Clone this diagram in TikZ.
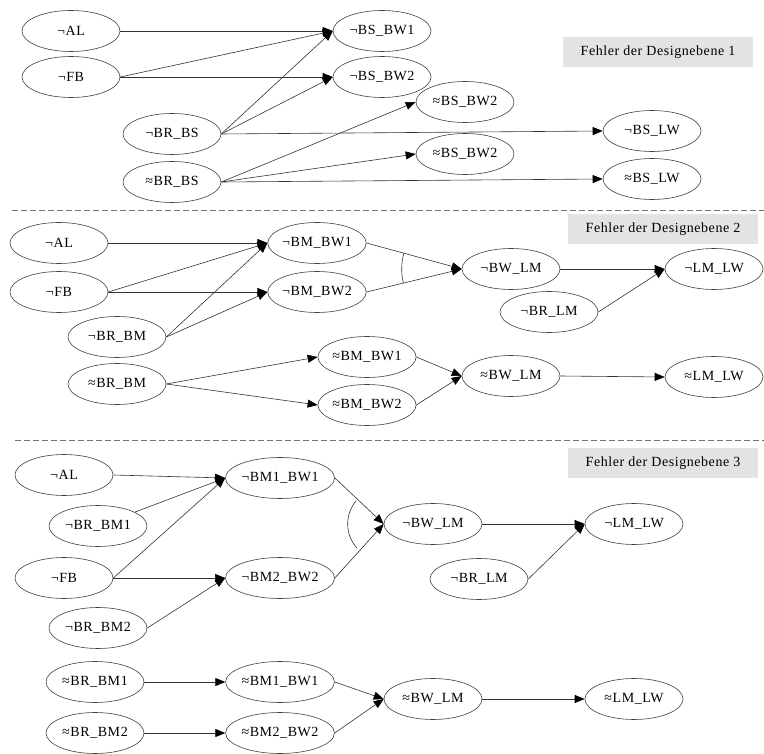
\documentclass[tikz,border=0pt]{standalone}
\usepackage{fontspec}
\setmainfont{Liberation Serif}
\newfontfamily\nodefont[LetterSpace=4]{Liberation Serif}
\usetikzlibrary{shapes.geometric,arrows.meta}

\tikzset{
  ev/.style={ellipse, draw=black!75, line width=0.6pt, minimum width=98pt,
    minimum height=41pt, inner sep=0pt, font=\nodefont\fontsize{14}{16}\selectfont},
  lab/.style={fill=black!11, minimum width=190pt, minimum height=30pt,
    inner sep=0pt, font=\nodefont\fontsize{14}{16}\selectfont},
  edge/.style={draw=black!80, line width=0.6pt, -{Triangle[length=10pt,width=8pt,color=black]}},
  andarc/.style={draw=black!80, line width=0.6pt},
  sep/.style={draw=black!55, line width=0.9pt, dash pattern=on 6pt off 3pt}
}

\begin{document}
\begin{tikzpicture}[x=1pt,y=-1pt]
\useasboundingbox (0,0) rectangle (764,754);

% ---------- Designebene 1 ----------
\node[ev] (s1al)    at (71,31)   {¬AL};
\node[ev] (s1fb)    at (71,77)   {¬FB};
\node[ev] (s1brbs)  at (172,134) {¬BR\_BS};
\node[ev] (s1xbrbs) at (172,182) {≈BR\_BS};
\node[ev] (s1bw1)   at (382,31)  {¬BS\_BW1};
\node[ev] (s1bw2)   at (382,77)  {¬BS\_BW2};
\node[ev] (s1xbw2a) at (465,102) {≈BS\_BW2};
\node[ev] (s1xbw2b) at (465,154) {≈BS\_BW2};
\node[ev] (s1lw)    at (652,131) {¬BS\_LW};
\node[ev] (s1xlw)   at (652,179) {≈BS\_LW};
\node[lab] (s1lab)  at (658,52)  {Fehler der Designebene 1};

\draw[edge] (s1al.east) -- (s1bw1.west);
\draw[edge] (s1fb.east) -- (s1bw1.west);
\draw[edge] (s1fb.east) -- (s1bw2.west);
\draw[edge] (s1brbs.east) -- (s1bw1.west);
\draw[edge] (s1brbs.east) -- (s1bw2.west);
\draw[edge] (s1brbs.east) -- (s1lw.west);
\draw[edge] (s1xbrbs.east) -- (s1xbw2a.west);
\draw[edge] (s1xbrbs.east) -- (s1xbw2b.west);
\draw[edge] (s1xbrbs.east) -- (s1xlw.west);

\coordinate (d1a) at (12,210);
\coordinate (d1b) at (764,210);
\draw[sep] (d1a) -- (d1b);

% ---------- Designebene 2 ----------
\node[ev] (s2al)    at (59,243)  {¬AL};
\node[ev] (s2fb)    at (59,292)  {¬FB};
\node[ev] (s2brbm)  at (117,337) {¬BR\_BM};
\node[ev] (s2xbrbm) at (117,384) {≈BR\_BM};
\node[ev] (s2bw1)   at (317,243) {¬BM\_BW1};
\node[ev] (s2bw2)   at (317,292) {¬BM\_BW2};
\node[ev] (s2xbw1)  at (367,357) {≈BM\_BW1};
\node[ev] (s2xbw2)  at (367,405) {≈BM\_BW2};
\node[ev] (s2bwlm)  at (511,269) {¬BW\_LM};
\node[ev] (s2brlm)  at (549,312) {¬BR\_LM};
\node[ev] (s2xbwlm) at (511,376) {≈BW\_LM};
\node[ev] (s2lw)    at (714,269) {¬LM\_LW};
\node[ev] (s2xlw)   at (714,377) {≈LM\_LW};
\node[lab] (s2lab)  at (663,229) {Fehler der Designebene 2};

\draw[edge] (s2al.east) -- (s2bw1.west);
\draw[edge] (s2fb.east) -- (s2bw1.west);
\draw[edge] (s2fb.east) -- (s2bw2.west);
\draw[edge] (s2brbm.east) -- (s2bw1.west);
\draw[edge] (s2brbm.east) -- (s2bw2.west);
\draw[edge] (s2xbrbm.east) -- (s2xbw1.west);
\draw[edge] (s2xbrbm.east) -- (s2xbw2.west);
\draw[edge] (s2bw1.east) -- (s2bwlm.west);
\draw[edge] (s2bw2.east) -- (s2bwlm.west);
\draw[edge] (s2bwlm.east) -- (s2lw.west);
\draw[edge] (s2brlm.east) -- (s2lw.west);
\draw[edge] (s2xbw1.east) -- (s2xbwlm.west);
\draw[edge] (s2xbw2.east) -- (s2xbwlm.west);
\draw[edge] (s2xbwlm.east) -- (s2xlw.west);
% conjunction arc
\draw[andarc] (s2bwlm.west) ++(164.8:60pt) arc[start angle=164.8, end angle=193.5, radius=60pt];

\coordinate (d2a) at (15,440);
\coordinate (d2b) at (764,440);
\draw[sep] (d2a) -- (d2b);

% ---------- Designebene 3 ----------
\node[ev] (s3al)     at (64,475)  {¬AL};
\node[ev] (s3brbm1)  at (98,526)  {¬BR\_BM1};
\node[ev] (s3fb)     at (64,578)  {¬FB};
\node[ev] (s3brbm2)  at (98,628)  {¬BR\_BM2};
\node[ev] (s3xbrbm1) at (95,682)  {≈BR\_BM1};
\node[ev] (s3xbrbm2) at (95,733)  {≈BR\_BM2};
\node[ev] (s3bw1)    at (280,478) {¬BM1\_BW1};
\node[ev] (s3bw2)    at (280,578) {¬BM2\_BW2};
\node[ev] (s3xbw1)   at (280,682) {≈BM1\_BW1};
\node[ev] (s3xbw2)   at (280,733) {≈BM2\_BW2};
\node[ev] (s3bwlm)   at (433,524) {¬BW\_LM};
\node[ev] (s3brlm)   at (479,579) {¬BR\_LM};
\node[ev] (s3lw)     at (634,524) {¬LM\_LW};
\node[ev] (s3xbwlm)  at (433,699) {≈BW\_LM};
\node[ev] (s3xlw)    at (634,699) {≈LM\_LW};
\node[lab] (s3lab)   at (663,463) {Fehler der Designebene 3};

\draw[edge] (s3al.east) -- (s3bw1.west);
\draw[edge] (s3brbm1) -- (s3bw1.west);
\draw[edge] (s3fb.east) -- (s3bw1.west);
\draw[edge] (s3fb.east) -- (s3bw2.west);
\draw[edge] (s3brbm2.east) -- (s3bw2.west);
\draw[edge] (s3bw1.east) -- (s3bwlm.west);
\draw[edge] (s3bw2.east) -- (s3bwlm.west);
\draw[edge] (s3bwlm.east) -- (s3lw.west);
\draw[edge] (s3brlm.east) -- (s3lw.west);
\draw[edge] (s3xbrbm1.east) -- (s3xbw1.west);
\draw[edge] (s3xbrbm2.east) -- (s3xbw2.west);
\draw[edge] (s3xbw1.east) -- (s3xbwlm.west);
\draw[edge] (s3xbw2.east) -- (s3xbwlm.west);
\draw[edge] (s3xbwlm.east) -- (s3xlw.west);
% conjunction arc
\draw[andarc] (s3bwlm.west) ++(140:36pt) arc[start angle=140, end angle=222, radius=36pt];

\end{tikzpicture}
\end{document}
